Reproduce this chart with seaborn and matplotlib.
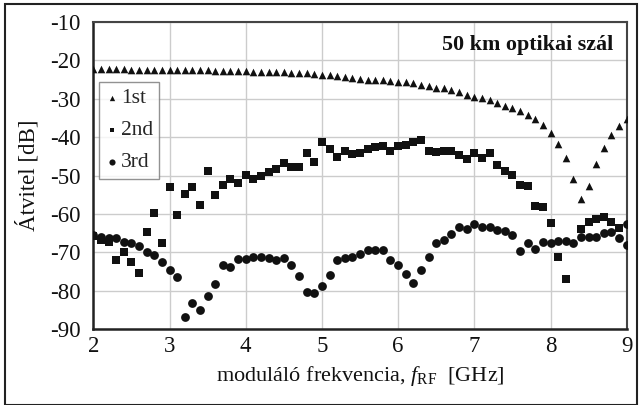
import numpy as np
import pandas as pd
import matplotlib
matplotlib.use("Agg")
import matplotlib.pyplot as plt
import seaborn as sns
from matplotlib.patches import Rectangle

# ---- data -------------------------------------------------------------
freq = [round(2.0 + 0.1 * i, 1) for i in range(71)]

first = [-22.3, -22.3, -22.3, -22.3, -22.3, -22.4, -22.4, -22.4, -22.4, -22.4,
         -22.4, -22.5, -22.6, -22.6, -22.6, -22.6, -22.7, -22.7, -22.7, -22.8,
         -22.8, -22.9, -22.9, -23.0, -23.0, -23.1, -23.2, -23.3, -23.4, -23.6,
         -23.7, -23.9, -24.1, -24.3, -24.6, -24.9, -25.0, -25.2, -25.2, -25.4,
         -25.6, -25.6, -25.8, -26.5, -26.7, -27.1, -27.3, -27.8, -28.2, -28.9,
         -29.5, -29.8, -30.4, -31.2, -31.9, -32.5, -33.2, -34.3, -35.3, -36.9,
         -38.9, -41.7, -45.4, -50.8, -56.1, -52.7, -47.1, -42.8, -39.5, -37.2,
         -35.3]

second = [-65.8, -66.8, -67.3, -72.0, -69.9, -72.5, -75.3, -64.7, -59.7, -67.5,
          -53.1, -60.3, -54.8, -53.1, -57.7, -48.9, -55.1, -52.4, -51.0, -52.0,
          -49.8, -50.8, -50.2, -49.0, -48.3, -46.8, -47.7, -47.8, -44.1, -46.4,
          -41.3, -43.0, -45.2, -43.5, -44.3, -44.2, -43.1, -42.5, -42.3, -43.6,
          -42.3, -42.1, -41.2, -40.8, -43.6, -44.0, -43.6, -43.6, -44.7, -45.7,
          -44.1, -45.5, -44.2, -47.3, -48.8, -49.9, -52.5, -52.7, -57.9, -58.3,
          -62.5, -71.2, -77.0, np.nan, -64.0, -62.2, -61.4, -60.9, -62.1, -63.7,
          np.nan]

third = [-65.6, -66.0, -66.2, -66.4, -67.4, -67.7, -68.4, -69.9, -70.7, -72.6,
         -74.5, -76.4, -86.8, -83.3, -85.1, -81.3, -78.3, -73.3, -73.9, -71.8,
         -71.8, -71.2, -71.2, -71.5, -72.1, -71.6, -73.2, -76.2, -80.3, -80.5,
         -78.9, -75.9, -72.1, -71.5, -71.3, -70.5, -69.4, -69.4, -69.4, -72.0,
         -73.4, -75.7, -78.1, -74.6, -71.3, -67.7, -66.8, -65.3, -63.4, -64.0,
         -62.7, -63.5, -63.5, -64.2, -64.4, -65.5, -69.6, -67.7, -69.2, -67.3,
         -67.5, -67.0, -67.0, -67.7, -66.1, -65.9, -66.1, -64.9, -64.6, -66.2,
         -62.7]
third_extra_freq = [9.0]
third_extra = [-68.1]

series_names = ["1st", "2nd", "3rd"]
x_ticks = [2, 3, 4, 5, 6, 7, 8, 9]
y_ticks = [-90, -80, -70, -60, -50, -40, -30, -20, -10]

# ---- style ------------------------------------------------------------
sns.set_theme(style="white")
plt.rcParams["font.family"] = ["Liberation Serif", "DejaVu Serif"]
plt.rcParams["mathtext.fontset"] = "custom"
plt.rcParams["mathtext.rm"] = "Liberation Serif"
plt.rcParams["mathtext.it"] = "Liberation Serif:italic"

fig = plt.figure(figsize=(6.42, 4.05), dpi=100)
ax = fig.add_axes([93.3 / 642, 1 - 329 / 405, (626.7 - 93.3) / 642, (329 - 22) / 405])

df1 = pd.DataFrame({"f": freq, "v": first})
df2 = pd.DataFrame({"f": freq, "v": second}).dropna()
df3 = pd.DataFrame({"f": freq + third_extra_freq, "v": third + third_extra})

mk = dict(color="#111111", linewidth=0, zorder=3, ax=ax)
sns.scatterplot(data=df1, x="f", y="v", marker="^", s=30, label=series_names[0], **mk)
sns.scatterplot(data=df2, x="f", y="v", marker="s", s=26, label=series_names[1], **mk)
sns.scatterplot(data=df3, x="f", y="v", marker="o", s=40, label=series_names[2], **mk)

ax.set_xlim(2, 9)
ax.set_ylim(-90, -10)
ax.set_xticks(x_ticks)
ax.set_yticks(y_ticks)
ax.set_xticklabels([str(t) for t in x_ticks])
ax.set_yticklabels([str(t) for t in y_ticks])
ax.tick_params(axis="both", length=0, labelsize=16.5, colors="#111111")
ax.tick_params(axis="y", pad=9)
ax.tick_params(axis="x", pad=5)
ax.grid(True, color="#cccccc", linewidth=1.0)
ax.set_axisbelow(True)
for side in ["left", "bottom"]:
    ax.spines[side].set_color("#222222")
    ax.spines[side].set_linewidth(1.8)
for side in ["top", "right"]:
    ax.spines[side].set_color("#444444")
    ax.spines[side].set_linewidth(1.5)

ax.set_xlabel(r"moduláló frekvencia, $f_{\mathrm{RF}}$  [GHz]", fontsize=16, color="#111111", labelpad=5)
ax.set_ylabel("Átvitel [dB]", fontsize=16.5, color="#111111")
ax.yaxis.set_label_coords(-0.10, 0.5)

ax.text(0.974, 0.925, "50 km optikai szál", transform=ax.transAxes, ha="right", va="center",
        fontsize=15.8, fontweight="bold", color="#111111")

leg = ax.legend(loc="upper left", bbox_to_anchor=(0.011, 0.805), borderaxespad=0, fontsize=15.5,
                frameon=True, fancybox=False, edgecolor="#777777", handletextpad=0.1,
                handlelength=0.6, labelspacing=0.55, borderpad=0.3, markerscale=0.7)
leg.get_frame().set_linewidth(1.0)

fig.patches.append(Rectangle((5 / 642, 0.0), 632 / 642, 1 - 4 / 405, transform=fig.transFigure,
                             fill=False, edgecolor="#222222", linewidth=1.5))

fig.savefig("out.png", dpi=100)
